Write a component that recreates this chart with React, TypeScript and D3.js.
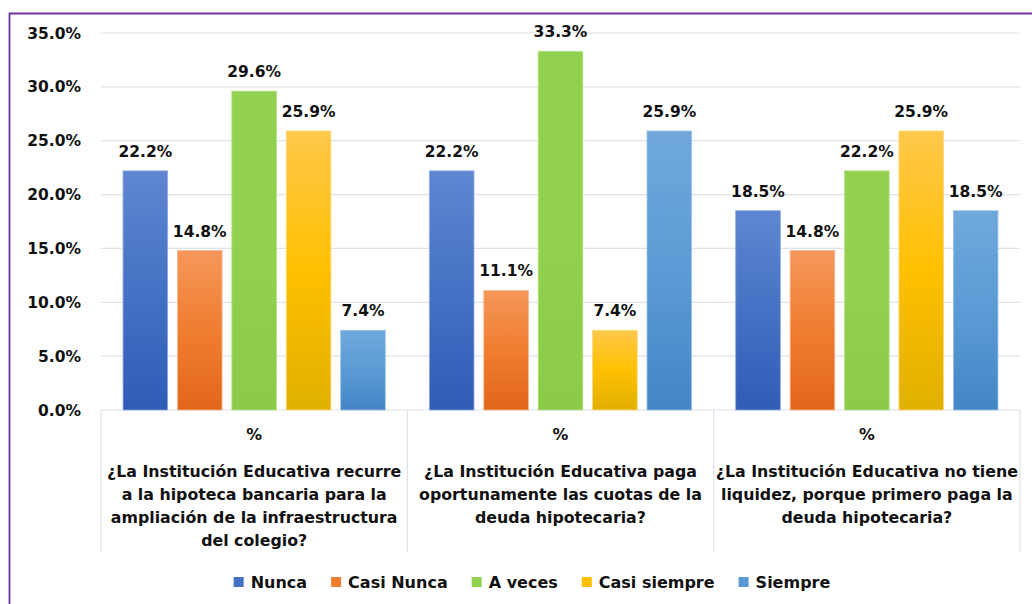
import React from "react";
import * as d3 from "d3";

const categories = ["c1", "c2", "c3"];
const categoryLines = [
  ["¿La Institución Educativa recurre", "a la hipoteca bancaria para la", "ampliación de la infraestructura", "del colegio?"],
  ["¿La Institución Educativa paga", "oportunamente las cuotas de la", "deuda hipotecaria?"],
  ["¿La Institución Educativa no tiene", "liquidez, porque primero paga la", "deuda hipotecaria?"],
];
const series = ["Nunca", "Casi Nunca", "A veces", "Casi siempre", "Siempre"];
const nunca = [22.2, 22.2, 18.5];
const casiNunca = [14.8, 11.1, 14.8];
const aVeces = [29.6, 33.3, 22.2];
const casiSiempre = [25.9, 7.4, 25.9];
const siempre = [7.4, 25.9, 18.5];
const seriesValues = [nunca, casiNunca, aVeces, casiSiempre, siempre];
const yTicks = [0, 5, 10, 15, 20, 25, 30, 35];

const gradients = [
  { top: "#5F86D2", mid: "#4472C4", bot: "#2F5CB6", stroke: "#8FAADC" },
  { top: "#F5975A", mid: "#F07D30", bot: "#E2661A", stroke: "#F8B890" },
  { top: "#92D050", mid: "#92D050", bot: "#8BCB48", stroke: "#B5E08A" },
  { top: "#FFC84C", mid: "#FFC000", bot: "#E0B000", stroke: "#FFD978" },
  { top: "#70A8DC", mid: "#5B9BD5", bot: "#4386C6", stroke: "#9CC3E6" },
];

const FONT = "'DejaVu Sans', Verdana, sans-serif";

function measure(text: string, size: number) {
  if (typeof document === "undefined") return text.length * size * 0.62;
  const c = document.createElement("canvas").getContext("2d");
  if (!c) return text.length * size * 0.62;
  c.font = `bold ${size}px 'DejaVu Sans'`;
  return c.measureText(text).width;
}

export default function App() {
  const W = 1032, H = 604;
  const left = 101, right = 1020, top = 33, bottom = 410;
  const y = d3.scaleLinear().domain([0, 35]).range([bottom, top]);
  const x0 = d3.scaleBand<string>().domain(categories).range([left, right]).paddingInner(0).paddingOuter(0);
  const x1 = d3.scaleBand<string>().domain(series).range([0, x0.bandwidth()]).paddingInner(0.18).paddingOuter(0.405);

  const legendFont = 16;
  const sq = 10, sqGap = 7, itemGap = 24;
  const widths = series.map((s) => measure(s, legendFont));
  const total = widths.reduce((a, w) => a + sq + sqGap + w, 0) + itemGap * (series.length - 1);
  let lx = 532 - total / 2;
  const legendItems = series.map((s, i) => {
    const item = { s, i, x: lx };
    lx += sq + sqGap + widths[i] + itemGap;
    return item;
  });

  return (
    <svg width={W} height={H} style={{ position: "absolute", left: 0, top: 0, background: "#fff" }} fontFamily={FONT}>
      <defs>
        {gradients.map((g, i) => (
          <linearGradient key={i} id={`g${i}`} x1="0" y1="0" x2="0" y2="1">
            <stop offset="0" stopColor={g.top} />
            <stop offset="0.5" stopColor={g.mid} />
            <stop offset="1" stopColor={g.bot} />
          </linearGradient>
        ))}
      </defs>
      <rect x={0} y={0} width={W} height={H} fill="#fff" />
      <path d={`M9.5,${H + 5}V13.5H${W + 5}`} fill="none" stroke="#7030A0" strokeWidth={1.8} />
      {yTicks.map((t) => (
        <g key={t}>
          <line x1={left} x2={right} y1={y(t)} y2={y(t)} stroke="#DEE2EA" strokeWidth={1.2} />
          <text x={81} y={y(t)} dy="0.36em" textAnchor="end" fontSize={15.5} fontWeight="bold" fill="#111">
            {t.toFixed(1)}%
          </text>
        </g>
      ))}
      {[...categories.map((c) => x0(c) as number), right].map((xv, i) => (
        <line key={i} x1={xv} x2={xv} y1={bottom} y2={552} stroke="#DEE2EA" strokeWidth={1.2} />
      ))}
      {categories.map((c, ci) => (
        <g key={c} transform={`translate(${x0(c)},0)`}>
          {series.map((s, si) => {
            const v = seriesValues[si][ci];
            const bx = x1(s) as number;
            return (
              <g key={s}>
                <rect x={bx} y={y(v)} width={x1.bandwidth()} height={y(0) - y(v)} fill={`url(#g${si})`} stroke={gradients[si].stroke} strokeWidth={0.8} />
                <text x={bx + x1.bandwidth() / 2} y={y(v) - 14} textAnchor="middle" fontSize={15.5} fontWeight="bold" fill="#111">
                  {v.toFixed(1)}%
                </text>
              </g>
            );
          })}
          <text x={x0.bandwidth() / 2} y={440} textAnchor="middle" fontSize={15.8} fontWeight="bold" fill="#111">%</text>
          {categoryLines[ci].map((ln, li) => (
            <text key={li} x={x0.bandwidth() / 2} y={477 + li * 23} textAnchor="middle" fontSize={15.8} fontWeight="bold" fill="#111">
              {ln}
            </text>
          ))}
        </g>
      ))}
      {legendItems.map(({ s, i, x }) => (
        <g key={s}>
          <rect x={x} y={577} width={sq} height={sq} fill={gradients[i].mid} />
          <text x={x + sq + sqGap} y={582} dy="0.36em" fontSize={legendFont} fontWeight="bold" fill="#111">{s}</text>
        </g>
      ))}
    </svg>
  );
}
